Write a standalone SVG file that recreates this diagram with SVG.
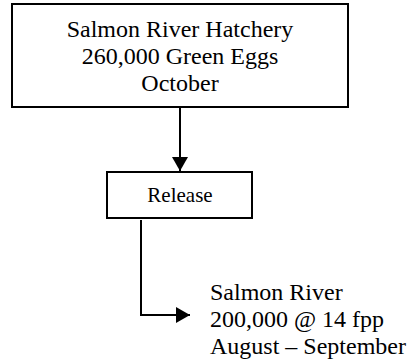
<svg xmlns="http://www.w3.org/2000/svg" width="413" height="364" viewBox="0 0 413 364">
<style>
.box{fill:#fff;stroke:#000;stroke-width:2}
.t{font-family:"Liberation Serif","Times New Roman",serif;fill:#000}
.c{fill:none;stroke:#000;stroke-width:2}
</style>
<defs>
<marker id="ah" markerWidth="14" markerHeight="16" refX="14" refY="8" orient="auto" markerUnits="userSpaceOnUse">
<path d="M0,0 L14,8 L0,16 Z" fill="#000"/>
</marker>
</defs>
<rect width="413" height="364" fill="#fff"/>
<g id="hatchery">
<rect class="box" x="12" y="4" width="336" height="103"/>
<text class="t" font-size="24" text-anchor="middle" x="180" y="37">Salmon River Hatchery</text>
<text class="t" font-size="24" text-anchor="middle" x="180" y="64">260,000 Green Eggs</text>
<text class="t" font-size="24" text-anchor="middle" x="180" y="91">October</text>
</g>
<g id="release">
<rect class="box" x="107" y="172" width="145" height="46"/>
<text class="t" font-size="21" text-anchor="middle" x="180" y="202">Release</text>
</g>
<g id="destination">
<text class="t" font-size="24" x="210" y="300">Salmon River</text>
<text class="t" font-size="24" x="210" y="327">200,000 @ 14 fpp</text>
<text class="t" font-size="24" x="210" y="354">August – September</text>
</g>
<g id="connectors">
<path class="c" d="M180,108 L180,171" marker-end="url(#ah)"/>
<path class="c" d="M141,220 L141,315 L190,315" marker-end="url(#ah)"/>
</g>
</svg>
